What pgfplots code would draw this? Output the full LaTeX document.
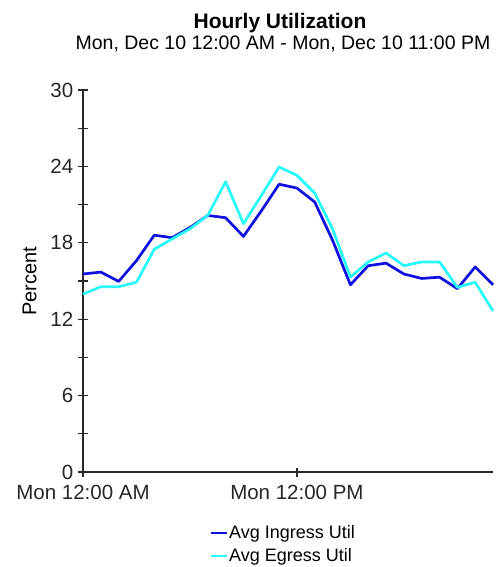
\documentclass[border=0pt]{standalone}
\usepackage{fontspec}
\setmainfont{Liberation Sans}
\usepackage{pgfplots}
\pgfplotsset{compat=1.18}
\definecolor{ingress}{RGB}{15,15,225}
\definecolor{egress}{RGB}{40,250,250}
\definecolor{axisgray}{RGB}{40,40,40}
\pgfplotstableread{
h ingress egress
0 15.55 13.97
1 15.70 14.55
2 14.97 14.55
3 16.60 14.90
4 18.60 17.50
5 18.40 18.30
6 19.20 19.10
7 20.15 20.15
8 19.97 22.80
9 18.50 19.50
10 20.50 21.70
11 22.60 23.95
12 22.30 23.30
13 21.20 21.90
14 18.20 19.10
15 14.70 15.30
16 16.20 16.50
17 16.40 17.20
18 15.55 16.20
19 15.20 16.50
20 15.30 16.50
21 14.40 14.50
22 16.10 14.90
23 14.70 12.65
}\datatable
\begin{document}
\begin{tikzpicture}
\path[use as bounding box] (0,0) rectangle (503bp,-567bp);
\begin{axis}[
  at={(83bp,-472bp)}, anchor=south west,
  scale only axis, width=410bp, height=382bp,
  xmin=0, xmax=23, ymin=0, ymax=30,
  axis x line=bottom, axis y line=left,
  axis line style={-, line width=1.4bp, axisgray},
  xtick={0,12}, xticklabels={Mon 12:00 AM, Mon 12:00 PM},
  ytick={0,6,...,30}, minor ytick={3,9,...,27},
  tick align=center, major tick length=9bp, minor tick length=9bp,
  tick style={line width=1.2bp, axisgray},
  /pgf/number format/assume math mode=true,
  ticklabel style={font=\fontsize{20.5bp}{24bp}\selectfont, text=black!85},
  yticklabel style={anchor=east, inner sep=0pt, xshift=-5bp},
  xticklabel style={anchor=north, inner sep=0pt, yshift=-8bp},
  ylabel={Percent},
  ylabel style={at={(axis description cs:-0.13,0.5)}, anchor=center, font=\fontsize{20bp}{24bp}\selectfont},
  legend style={at={(axis description cs:0.31,-0.138)}, anchor=north west, draw=none, fill=none,
    font=\fontsize{18bp}{22bp}\selectfont, inner sep=0pt, row sep=6bp,
    nodes={inner sep=1bp}},
  legend cell align=left,
  legend image code/.code={\draw[#1, line width=1.8bp] (0bp,0bp) -- (16bp,0bp);},
  clip=false,
]
\addplot[ingress, line width=2.7bp, line join=round] table[x=h, y=ingress] {\datatable};
\addlegendentry{Avg Ingress Util}
\addplot[egress, line width=2.7bp, line join=round] table[x=h, y=egress] {\datatable};
\addlegendentry{Avg Egress Util}
\end{axis}
\node[anchor=base, font=\bfseries\fontsize{21bp}{24bp}\selectfont] at (280bp,-28bp) {Hourly Utilization};
\node[anchor=base, font=\fontsize{19.5bp}{23bp}\selectfont] at (283bp,-49bp) {Mon, Dec 10 12:00 AM - Mon, Dec 10 11:00 PM};
\end{tikzpicture}
\end{document}
